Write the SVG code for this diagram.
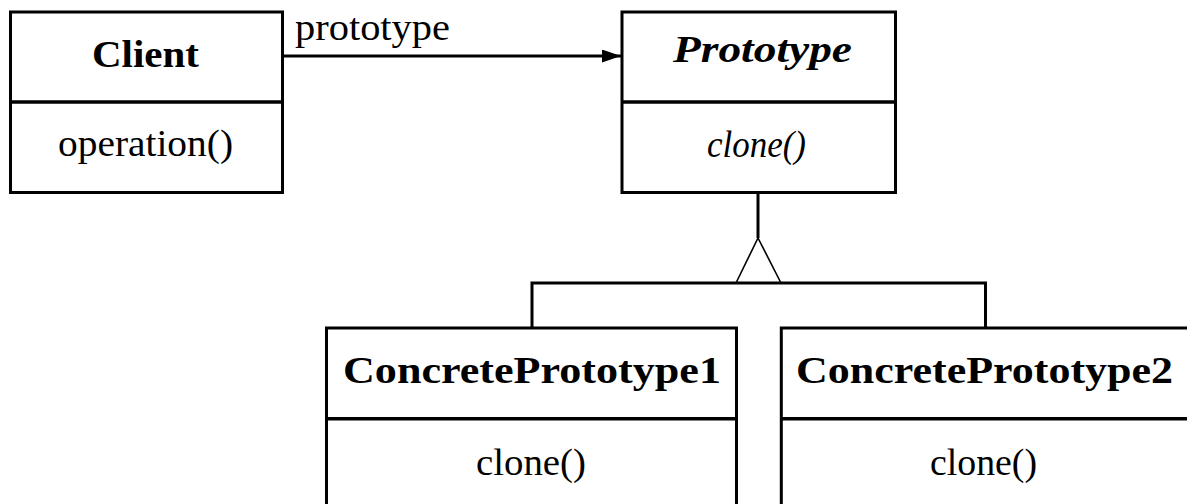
<svg xmlns="http://www.w3.org/2000/svg" width="1187" height="504" viewBox="0 0 1187 504">
<style>
.box{fill:#fff;stroke:#000;stroke-width:3}
.div{stroke:#000;stroke-width:3.5}
.t{font-family:"Liberation Serif","Times New Roman",serif;font-size:37px;fill:#000;text-anchor:middle}
.b{font-weight:bold}
.i{font-style:italic}
.ln{fill:none;stroke:#000;stroke-width:3}
</style>
<defs>
<marker id="arr" markerUnits="userSpaceOnUse" markerWidth="20" markerHeight="14" refX="19" refY="6.5" orient="auto">
<path d="M0,0 L19,6.5 L0,13 Z" fill="#000"/>
</marker>
</defs>
<g id="connectors">
<line class="ln" x1="283" y1="56" x2="621" y2="56" stroke-width="3.5" marker-end="url(#arr)"/>
<text class="t" x="295" y="40" style="text-anchor:start" textLength="155" lengthAdjust="spacingAndGlyphs">prototype</text>
<line class="ln" x1="758" y1="193" x2="758" y2="238"/>
<path d="M736,283 L758,238 L781,283" fill="none" stroke="#000" stroke-width="1.6"/>
<path class="ln" d="M532,328 V283 H985.5 V328"/>
</g>
<g id="client">
<rect class="box" x="10.5" y="12" width="272" height="180.5"/>
<line class="div" x1="10.5" y1="102" x2="282.5" y2="102"/>
<text class="t b" x="145.5" y="67" textLength="107" lengthAdjust="spacingAndGlyphs">Client</text>
<text class="t" x="145.5" y="156" textLength="175" lengthAdjust="spacingAndGlyphs">operation()</text>
</g>
<g id="prototype">
<rect class="box" x="622" y="12" width="273.5" height="180.5"/>
<line class="div" x1="622" y1="102" x2="895.5" y2="102"/>
<text class="t b i" x="762.5" y="62" textLength="179" lengthAdjust="spacingAndGlyphs">Prototype</text>
<text class="t i" x="756.5" y="156.5" textLength="99" lengthAdjust="spacingAndGlyphs">clone()</text>
</g>
<g id="concrete1">
<rect class="box" x="326.5" y="328" width="410" height="182"/>
<line class="div" x1="326.5" y1="418.7" x2="736.5" y2="418.7"/>
<text class="t b" x="532" y="383" textLength="378" lengthAdjust="spacingAndGlyphs">ConcretePrototype1</text>
<text class="t" x="531" y="475" textLength="110" lengthAdjust="spacingAndGlyphs">clone()</text>
</g>
<g id="concrete2">
<rect class="box" x="781.3" y="328" width="410" height="182"/>
<line class="div" x1="781.3" y1="418.7" x2="1191.3" y2="418.7"/>
<text class="t b" x="984.5" y="383" textLength="377" lengthAdjust="spacingAndGlyphs">ConcretePrototype2</text>
<text class="t" x="983.5" y="475" textLength="107" lengthAdjust="spacingAndGlyphs">clone()</text>
</g>
</svg>
